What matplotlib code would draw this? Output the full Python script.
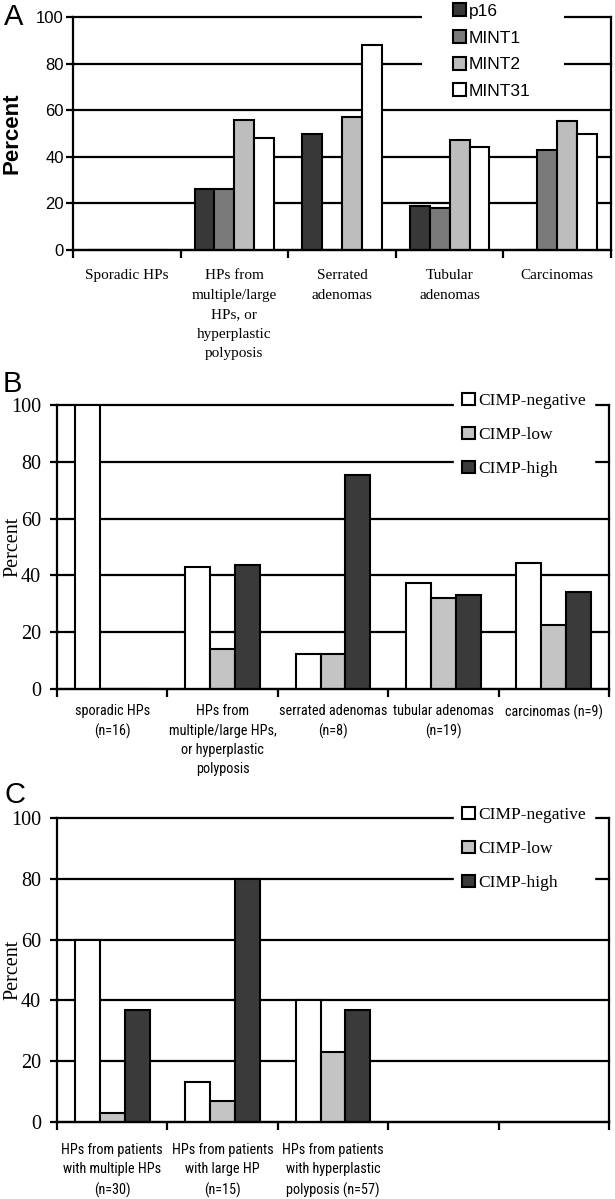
import matplotlib
matplotlib.use("Agg")
from matplotlib import pyplot as plt
from matplotlib import font_manager
from matplotlib.patches import Patch, Rectangle
import numpy as np

# panel A: methylation frequency per marker
cats_a = ["Sporadic HPs", "HPs from\nmultiple/large\nHPs, or\nhyperplastic\npolyposis",
          "Serrated\nadenomas", "Tubular\nadenomas", "Carcinomas"]
markers_a = ["p16", "MINT1", "MINT2", "MINT31"]
p16 = [0, 26, 50, 19, 0]
mint1 = [0, 26, 0, 18, 43]
mint2 = [0, 56, 57, 47, 55.5]
mint31 = [0, 48, 88, 44, 50]

# panel B: CIMP status per lesion type
cats_b = ["sporadic HPs\n(n=16)", "HPs from\nmultiple/large HPs,\nor hyperplastic\npolyposis",
          "serrated adenomas\n(n=8)", "tubular adenomas\n(n=19)", "carcinomas (n=9)"]
cimp_labels = ["CIMP-negative", "CIMP-low", "CIMP-high"]
neg_b = [100, 43, 12.5, 37.5, 44.5]
low_b = [0, 14, 12.5, 32, 22.5]
high_b = [0, 43.5, 75.5, 33, 34]

# panel C: CIMP status of HPs by patient group
cats_c = ["HPs from patients\nwith multiple HPs\n(n=30)", "HPs from patients\nwith large HP\n(n=15)",
          "HPs from patients\nwith hyperplastic\npolyposis (n=57)", "", ""]
neg_c = [60, 13, 40]
low_c = [3, 7, 23]
high_c = [37, 80, 37]

W, H = 615, 1199
SANS = ["Liberation Sans", "DejaVu Sans"]
SERIF = ["Liberation Serif", "DejaVu Serif"]

# pick a narrow sans for the B/C category labels if one is installed
_have = {(f.name, f.stretch) for f in font_manager.fontManager.ttflist}
_names = {n for n, s in _have}
if "Liberation Sans Narrow" in _names:
    NARROW = dict(family="Liberation Sans Narrow")
    ratio = 0.82
elif "Roboto Condensed" in _names:
    NARROW = dict(family="Roboto Condensed")
    ratio = 0.86
elif ("DejaVu Sans", "condensed") in _have or ("DejaVu Sans", "semi-condensed") in _have:
    NARROW = dict(family="DejaVu Sans", fontstretch="condensed")
    ratio = 1.0
else:
    NARROW = dict(family="Liberation Sans")
    ratio = 1.0


def px_axes(fig, left, right, top, bottom):
    return fig.add_axes([left / W, 1 - bottom / H, (right - left) / W, (bottom - top) / H])


def style_axes(ax, ncat, tick_font, tick_size, tick_pad):
    ax.set_xlim(-0.5, ncat - 0.5)
    ax.set_ylim(0, 100)
    ax.spines["top"].set_visible(False)
    for s in ("left", "right", "bottom"):
        ax.spines[s].set_linewidth(1.6)
    for y in range(0, 101, 20):
        ax.axhline(y, color="black", lw=1.6, zorder=0.5, clip_on=False)
    ax.set_yticks(range(0, 101, 20))
    ax.tick_params(axis="y", direction="out", length=5, width=1.6, pad=tick_pad)
    for t in ax.get_yticklabels():
        t.set_family(tick_font)
        t.set_fontsize(tick_size)
    ax.set_xticks(np.arange(-0.5, ncat), minor=True)
    ax.tick_params(axis="x", which="minor", direction="out", length=6, width=1.6)


def bars(ax, series, colors, width):
    n = len(series)
    for i, (vals, c) in enumerate(zip(series, colors)):
        x = np.arange(len(vals)) + (i - (n - 1) / 2) * width
        ax.bar(x, vals, width, color=c, edgecolor="black", linewidth=1.5, zorder=2)


def cimp_legend(ax, y):
    h = [Patch(facecolor=c, edgecolor="black", linewidth=1.5) for c in cimp_colors]
    leg = ax.legend(h, cimp_labels, loc="upper left", bbox_to_anchor=(0.703, y),
                    prop={"family": SERIF, "size": 12.5},
                    handlelength=0.7, handleheight=0.7, handletextpad=0.2, labelspacing=1.02,
                    borderpad=0.5, frameon=True, fancybox=False, framealpha=1, edgecolor="white")
    leg.set_zorder(5)


fig = plt.figure(figsize=(W / 100, H / 100), dpi=100)

# ---- A ----
ax = px_axes(fig, 73, 611, 17, 250)
colors_a = ["#383838", "#7a7a7a", "#bdbdbd", "white"]
bars(ax, [p16, mint1, mint2, mint31], colors_a, 0.185)
style_axes(ax, 5, SANS, 12, 1.5)
ax.set_xticks(range(5), cats_a, family=SERIF, fontsize=11, va="top", linespacing=1.65)
ax.tick_params(axis="x", which="major", length=0, pad=14)
ax.set_ylabel("Percent", family=SANS, fontsize=16, fontweight="bold")
ax.yaxis.set_label_coords(-0.093, 0.5)
# legend sits on a white patch that breaks the 80 and 100 grid lines
ax.add_patch(Rectangle((0.649, 0.7), 0.264, 0.4, transform=ax.transAxes, facecolor="white",
                       edgecolor="none", zorder=4, clip_on=False))
h = [Patch(facecolor=c, edgecolor="black", linewidth=1.5) for c in colors_a]
leg = ax.legend(h, markers_a, loc="upper left", bbox_to_anchor=(0.683, 1.111), prop={"family": SANS, "size": 12.5},
                handlelength=0.78, handleheight=0.78, handletextpad=0.15, labelspacing=0.64,
                borderpad=0.2, frameon=False)
leg.set_zorder(5)
fig.text(4 / W, 1 - 25 / H, "A", family=SANS, fontsize=21, va="baseline")

# ---- B ----
ax = px_axes(fig, 57, 609, 405, 689)
cimp_colors = ["white", "#c4c4c4", "#3a3a3a"]
bars(ax, [neg_b, low_b, high_b], cimp_colors, 0.226)
style_axes(ax, 5, SERIF, 14.5, 6.5)
ax.set_xticks(range(5), cats_b, fontsize=8.8 / ratio, va="top", linespacing=1.48, **NARROW)
ax.tick_params(axis="x", which="major", length=0, pad=11)
ax.set_ylabel("Percent", family=SERIF, fontsize=14.5)
ax.yaxis.set_label_coords(-0.063, 0.5)
cimp_legend(ax, 1.103)
fig.text(3 / W, 1 - 392 / H, "B", family=SANS, fontsize=21, va="baseline")

# ---- C ----
ax = px_axes(fig, 57, 609, 818, 1122)
bars(ax, [neg_c, low_c, high_c], cimp_colors, 0.226)
style_axes(ax, 5, SERIF, 14.5, 6.5)
ax.set_xticks(range(5), cats_c, fontsize=8.8 / ratio, va="top", linespacing=1.5, **NARROW)
ax.tick_params(axis="x", which="major", length=0, pad=15)
ax.set_ylabel("Percent", family=SERIF, fontsize=14.5)
ax.yaxis.set_label_coords(-0.063, 0.5)
cimp_legend(ax, 1.093)
fig.text(4 / W, 1 - 803 / H, "C", family=SANS, fontsize=21, va="baseline")

fig.savefig("out.png", dpi=100)
